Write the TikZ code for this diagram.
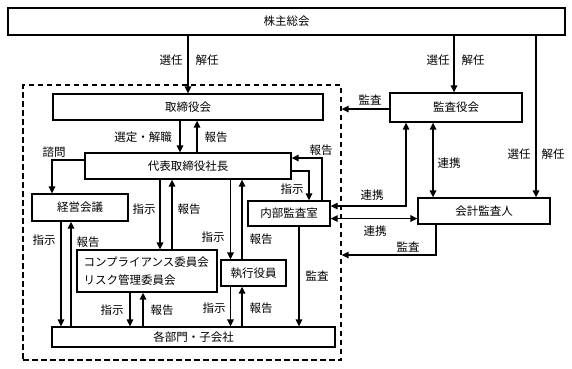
\documentclass[tikz,border=0pt]{standalone}
\usepackage{fontspec}
\setmainfont{Noto Sans CJK JP}
\usetikzlibrary{arrows.meta,calc}
\begin{document}
\begin{tikzpicture}[x=1pt,y=-1pt,
 box/.style={draw,line width=1.3pt,inner sep=0pt,fill=white,font=\fontsize{11.5}{13}\selectfont},
 lbl/.style={inner sep=0pt,font=\fontsize{11.5}{13}\selectfont},
 arr/.style={line width=1.4pt,-{Triangle[length=7pt,width=6.5pt]}},
 darr/.style={line width=1.4pt,{Triangle[length=7pt,width=6.5pt]}-{Triangle[length=7pt,width=6.5pt]}},
 grpbox/.style={draw,line width=1.3pt,dash pattern=on 5.5pt off 3.5pt,inner sep=0pt}
]
\useasboundingbox (0,0) rectangle (572,368);
% group
\node[grpbox,minimum width=318pt,minimum height=275pt] (grp) at (182,222.5) {};
% boxes
\node[box,minimum width=557pt,minimum height=27pt] (kabu) at (286.5,21.5) {株主総会};
\node[box,minimum width=270pt,minimum height=26pt] (tori) at (188,107) {取締役会};
\node[box,minimum width=206pt,minimum height=26pt] (daihyo) at (188,166) {代表取締役社長};
\node[box,minimum width=96pt,minimum height=27pt] (keiei) at (80,207.5) {経営会議};
\node[box,minimum width=140pt,minimum height=42pt,align=left,text width=127pt,font=\fontsize{11.5}{18}\selectfont] (comp) at (147,271) {コンプライアンス委員会\\リスク管理委員会};
\node[box,minimum width=65pt,minimum height=26pt] (shikko) at (253.5,273) {執行役員};
\node[box,minimum width=82pt,minimum height=25pt] (naibu) at (289,213.5) {内部監査室};
\node[box,minimum width=283pt,minimum height=20pt] (kakubu) at (193.5,337) {各部門・子会社};
\node[box,minimum width=132pt,minimum height=29pt] (kansa) at (456,107.5) {監査役会};
\node[box,minimum width=132pt,minimum height=26pt] (kaikei) at (484,211) {会計監査人};
% guide coordinates
\coordinate (v188) at (188,0);
\coordinate (v180) at (180,0);
\coordinate (v197) at (197,0);
\coordinate (v52) at (52,0);
\coordinate (h160) at (0,160);
\coordinate (v61) at (61,0);
\coordinate (v71) at (71,0);
\coordinate (v160) at (160,0);
\coordinate (v172) at (172,0);
\coordinate (v130) at (130,0);
\coordinate (v143) at (143,0);
\coordinate (v230) at (230.5,0);
\coordinate (v242) at (242,0);
\coordinate (v309) at (309,0);
\coordinate (h171) at (0,171);
\coordinate (v322) at (322,0);
\coordinate (h158) at (0,158);
\coordinate (v299) at (299,0);
\coordinate (v454) at (454,0);
\coordinate (h109) at (0,109);
\coordinate (v536) at (536,0);
\coordinate (h206) at (0,206);
\coordinate (v406) at (406,0);
\coordinate (v433) at (433,0);
\coordinate (h218) at (0,218.5);
\coordinate (v436) at (436,0);
\coordinate (h255) at (0,255);
% connectors
\draw[arr] (kabu.south -| v188) -- (tori.north -| v188);
\draw[arr] (tori.south -| v180) -- (daihyo.north -| v180);
\draw[arr] (daihyo.north -| v197) -- (tori.south -| v197);
\draw[arr] (daihyo.west |- h160) -| (keiei.north -| v52);
\draw[arr] (keiei.south -| v61) -- (kakubu.north -| v61);
\draw[arr] (kakubu.north -| v71) -- (keiei.south -| v71);
\draw[arr] (daihyo.south -| v160) -- (comp.north -| v160);
\draw[arr] (comp.north -| v172) -- (daihyo.south -| v172);
\draw[arr] (comp.south -| v130) -- (kakubu.north -| v130);
\draw[arr] (kakubu.north -| v143) -- (comp.south -| v143);
\draw[arr] (daihyo.south -| v230) -- (shikko.north -| v230);
\draw[arr] (shikko.north -| v242) -- (daihyo.south -| v242);
\draw[arr] (shikko.south -| v230) -- (kakubu.north -| v230);
\draw[arr] (kakubu.north -| v242) -- (shikko.south -| v242);
\draw[arr] (daihyo.east |- h171) -| (naibu.north -| v309);
\draw[arr] (naibu.north -| v322) |- (daihyo.east |- h158);
\draw[arr] (naibu.south -| v299) -- (kakubu.north -| v299);
\draw[arr] (kabu.south -| v454) -- (kansa.north -| v454);
\draw[arr] (kansa.west |- h109) -- (grp.east |- h109);
\draw[arr] (kabu.south -| v536) -- (kaikei.north -| v536);
\draw[darr] (naibu.east |- h206) -| (kansa.south -| v406);
\draw[darr] (kansa.south -| v433) -- (kaikei.north -| v433);
\draw[darr] (naibu.east |- h218) -- (kaikei.west |- h218);
\draw[arr] (kaikei.south -| v436) |- (grp.east |- h255);
% labels
\node[lbl] (l1a) at (171,60) {選任};
\node[lbl] (l1b) at (207,60) {解任};
\node[lbl] (l2) at (143,137) {選定・解職};
\node[lbl] (l3) at (216,137) {報告};
\node[lbl] (l4) at (54,152) {諮問};
\node[lbl] (l5) at (44,240) {指示};
\node[lbl] (l6) at (88,242) {報告};
\node[lbl] (l7) at (144,209) {指示};
\node[lbl] (l8) at (189,209) {報告};
\node[lbl] (l9) at (112,310) {指示};
\node[lbl] (l10) at (162,310) {報告};
\node[lbl] (l11) at (213,237) {指示};
\node[lbl] (l12) at (261,239) {報告};
\node[lbl] (l13) at (214,308) {指示};
\node[lbl] (l14) at (261,308) {報告};
\node[lbl] (l15) at (292,189) {指示};
\node[lbl] (l16) at (321,150) {報告};
\node[lbl] (l17) at (317,276) {監査};
\node[lbl] (l18a) at (438,60) {選任};
\node[lbl] (l18b) at (473,60) {解任};
\node[lbl] (l19) at (370,100) {監査};
\node[lbl] (l20a) at (519,154) {選任};
\node[lbl] (l20b) at (553,154) {解任};
\node[lbl] (l21) at (372,195) {連携};
\node[lbl] (l22) at (449,163) {連携};
\node[lbl] (l23) at (375,231) {連携};
\node[lbl] (l24) at (408,247) {監査};
\end{tikzpicture}
\end{document}
